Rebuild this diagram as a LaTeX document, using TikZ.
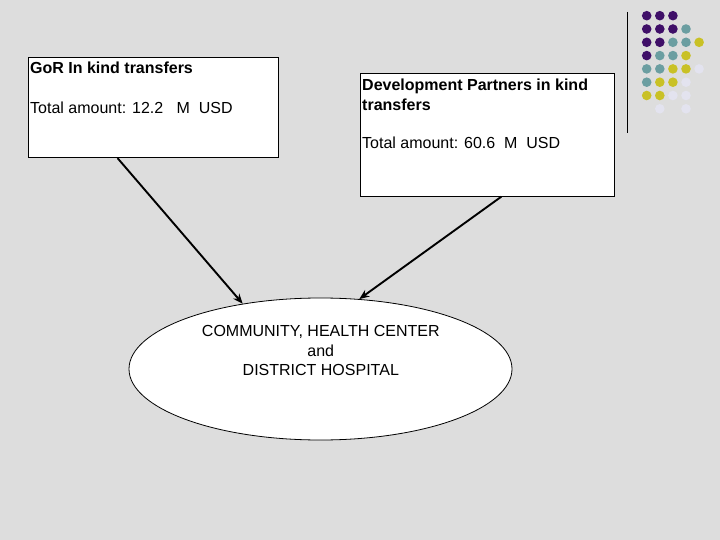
\documentclass[tikz,border=0pt]{standalone}
\usepackage{fontspec}
\setmainfont{Liberation Sans}
\usetikzlibrary{shapes.geometric,calc,arrows.meta}
\definecolor{bggray}{HTML}{DDDDDD}
\definecolor{dotpurple}{HTML}{3F0F68}
\definecolor{dotteal}{HTML}{6B9EA1}
\definecolor{dotyellow}{HTML}{C9C125}
\definecolor{dotlight}{HTML}{E3E3EF}
\begin{document}
\begin{tikzpicture}[x=1pt,y=-1pt,
  box/.style={draw=black,line width=0.8pt,fill=white,rectangle,inner sep=0pt,anchor=north west},
  txt/.style={inner sep=0pt,anchor=base west,font=\fontsize{16}{20}\selectfont},
  ctxt/.style={inner sep=0pt,anchor=base,font=\fontsize{16}{20}\selectfont},
  conn/.style={line width=1.9pt,-{Stealth[length=10pt,width=8pt]}},
  dot/.style={circle,inner sep=0pt,minimum size=9.6pt}
]
\fill[bggray] (0,0) rectangle (720,540);
\useasboundingbox (0,0) rectangle (720,540);

% decorative dots
\foreach \r/\c/\col in {
 0/0/dotpurple,0/1/dotpurple,0/2/dotpurple,
 1/0/dotpurple,1/1/dotpurple,1/2/dotpurple,1/3/dotteal,
 2/0/dotpurple,2/1/dotpurple,2/2/dotteal,2/3/dotteal,2/4/dotyellow,
 3/0/dotpurple,3/1/dotteal,3/2/dotteal,3/3/dotyellow,
 4/0/dotteal,4/1/dotteal,4/2/dotyellow,4/3/dotyellow,4/4/dotlight,
 5/0/dotteal,5/1/dotyellow,5/2/dotyellow,5/3/dotlight,
 6/0/dotyellow,6/1/dotyellow,6/2/dotlight,6/3/dotlight,
 7/1/dotlight,7/3/dotlight}{
  \node[dot,fill=\col] (dot-\r-\c) at ({646.7+13.1*\c},{15.7+13.3*\r}) {};
}
\coordinate (vtop) at (627,12);
\coordinate (vbot) at (627,133);
\draw[line width=1pt] (vtop) -- (vbot);

% boxes
\node[box,minimum width=250pt,minimum height=100.5pt] (gor) at (28,56.8) {};
\node[txt,font=\fontsize{16}{20}\selectfont\bfseries] (gor1) at (30,74) {GoR In kind transfers};
\node[txt] (gor2) at (30,114) {Total amount: 12.2\ \ \ M\ \ USD};

\node[box,minimum width=254pt,minimum height=122.5pt] (dp) at (360,73.3) {};
\node[txt,font=\fontsize{16}{20}\selectfont\bfseries] (dp1) at (362,91) {Development Partners in kind};
\node[txt,font=\fontsize{16}{20}\selectfont\bfseries] (dp2) at (362,110.5) {transfers};
\node[txt] (dp3) at (362,148.3) {Total amount: 60.6\ \ M\ \ USD};

% ellipse
\node[ellipse,draw=black,line width=0.8pt,fill=white,inner sep=0pt,minimum width=383pt,minimum height=142pt] (ell) at (320.5,369) {};
\node[ctxt] (e1) at (320.8,336.7) {COMMUNITY, HEALTH CENTER};
\node[ctxt] (e2) at (320.8,356) {and};
\node[ctxt] (e3) at (320.8,375) {DISTRICT HOSPITAL};

% connectors
\coordinate (s1) at ($(gor.south west)!0.357!(gor.south east)$);
\coordinate (s2) at ($(dp.south west)!0.555!(dp.south east)$);
\draw[conn] (s1) -- (ell.140);
\draw[conn] (s2) -- (ell.61);
\end{tikzpicture}
\end{document}
